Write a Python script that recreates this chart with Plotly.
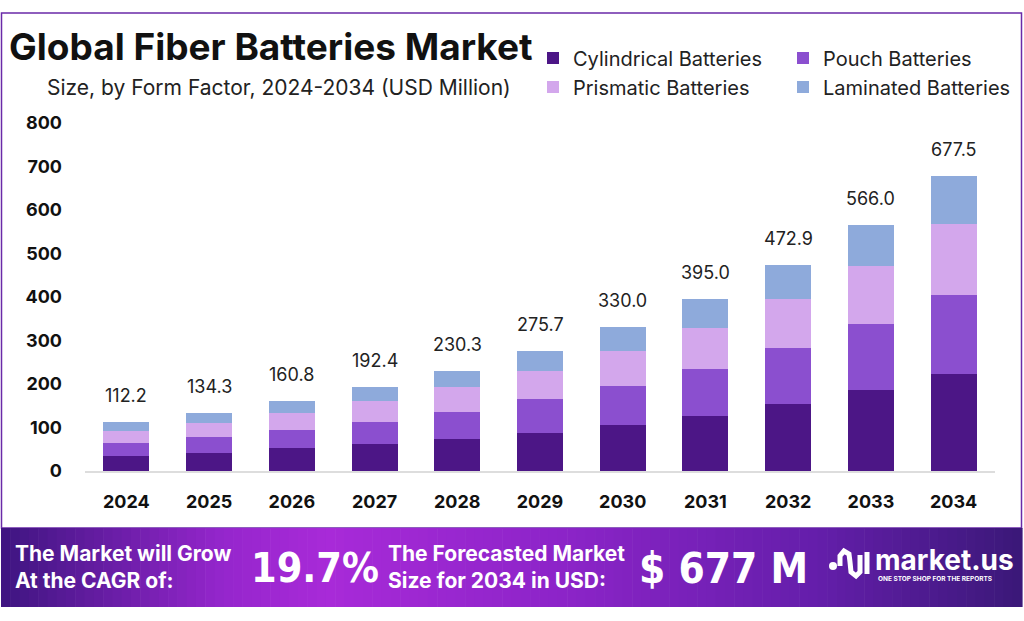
import plotly.graph_objects as go

years = ["2024", "2025", "2026", "2027", "2028", "2029", "2030", "2031", "2032", "2033", "2034"]
totals = [112.2, 134.3, 160.8, 192.4, 230.3, 275.7, 330.0, 395.0, 472.9, 566.0, 677.5]
cylindrical = [34.6, 42.2, 52.2, 62.2, 73.0, 88.5, 105.3, 126.7, 153.7, 186.0, 222.8]
pouch = [30.6, 36.8, 42.3, 51.4, 63.6, 76.0, 89.9, 107.6, 129.0, 151.3, 182.0]
prismatic = [27.0, 32.3, 39.8, 47.7, 55.4, 65.9, 80.6, 95.2, 112.9, 135.1, 163.6]
laminated = [20.0, 23.0, 26.5, 31.1, 38.3, 45.3, 54.2, 65.5, 77.3, 93.6, 109.1]
y_ticks = [0, 100, 200, 300, 400, 500, 600, 700, 800]

W, H = 1024, 621
L, R, T, B = 85, 29, 123, 150
PW = W - L - R
PH = H - T - B


def px(x):
    return (x - L) / PW


def py(y):
    return (H - B - y) / PH


FONT = "Inter, 'Open Sans', sans-serif"
colors = {"cyl": "#4c1686", "pouch": "#8b4fcf", "pris": "#d3a7ec", "lam": "#8eaadb"}

fig = go.Figure()
series = [
    ("Cylindrical Batteries", cylindrical, colors["cyl"], "legend"),
    ("Pouch Batteries", pouch, colors["pouch"], "legend"),
    ("Prismatic Batteries", prismatic, colors["pris"], "legend2"),
    ("Laminated Batteries", laminated, colors["lam"], "legend2"),
]
for name, vals, col, lg in series:
    fig.add_trace(go.Bar(x=years, y=vals, name=name, marker=dict(color=col, line=dict(width=0)),
                         legend=lg, hoverinfo="x+y+name"))

annotations = []
for i, tot in enumerate(totals):
    annotations.append(dict(x=i, y=tot, text=f"{tot:.1f}", showarrow=False, xref="x", yref="y",
                            yanchor="bottom", yshift=14, font=dict(family=FONT, size=18, color="#222")))

# Title & subtitle
annotations.append(dict(x=px(7), y=py(47), xref="paper", yref="paper", xanchor="left", yanchor="middle",
                        text="<b>Global Fiber Batteries Market</b>", showarrow=False,
                        font=dict(family=FONT, size=37, color="#111")))
annotations.append(dict(x=px(45), y=py(88), xref="paper", yref="paper", xanchor="left", yanchor="middle",
                        text="Size, by Form Factor, 2024-2034 (USD Million)", showarrow=False,
                        font=dict(family=FONT, size=21, color="#222")))

shapes = []
# Frame
shapes.append(dict(type="rect", xref="paper", yref="paper", x0=px(1.5), x1=px(1021.5), y0=py(528), y1=py(13),
                   line=dict(color="#6a2aa8", width=1.5), fillcolor="rgba(0,0,0,0)", layer="below"))

# Banner gradient strips
stops = [(0.0, (62, 21, 128)), (0.22, (150, 38, 205)), (0.32, (168, 42, 216)),
         (0.55, (140, 36, 200)), (0.8, (100, 30, 170)), (1.0, (58, 24, 120))]


def grad(t):
    for (t0, c0), (t1, c1) in zip(stops[:-1], stops[1:]):
        if t0 <= t <= t1:
            f = (t - t0) / (t1 - t0)
            return "rgb(%d,%d,%d)" % tuple(round(a + (b - a) * f) for a, b in zip(c0, c1))
    return "rgb(%d,%d,%d)" % stops[-1][1]


bx0, bx1 = 1.0, 1022.0
n = 110
step = (bx1 - bx0) / n
for i in range(n):
    xa = bx0 + i * step
    shapes.append(dict(type="rect", xref="paper", yref="paper", x0=px(xa), x1=px(xa + step + 0.6),
                       y0=py(607), y1=py(528), line=dict(width=0), fillcolor=grad((i + 0.5) / n), layer="below"))

# Logo icon (approximation)
shapes.append(dict(type="circle", xref="paper", yref="paper", x0=px(829), x1=px(837), y0=py(570), y1=py(562),
                   fillcolor="white", line=dict(width=0)))
path_pts = [(840, 566), (840, 556), (844, 551), (849, 554), (850, 562), (851, 572), (856, 576), (860, 572), (860, 555)]
path = "M " + " L ".join(f"{px(a)} {py(b)}" for a, b in path_pts)
shapes.append(dict(type="path", xref="paper", yref="paper", path=path, line=dict(color="white", width=5)))
shapes.append(dict(type="line", xref="paper", yref="paper", x0=px(867), x1=px(867), y0=py(552), y1=py(574),
                   line=dict(color="white", width=5)))

WHITE = "#ffffff"
BFONT = "'DejaVu Sans Condensed', 'Liberation Sans Narrow', Inter, sans-serif"
annotations += [
    dict(x=px(13), y=py(567), xref="paper", yref="paper", xanchor="left", yanchor="middle", showarrow=False,
         align="left", text="<b>The Market will Grow<br>At the CAGR of:</b>",
         font=dict(family=FONT, size=21, color=WHITE)),
    dict(x=px(249), y=py(568), xref="paper", yref="paper", xanchor="left", yanchor="middle", showarrow=False,
         text="<b>19.7%</b>", font=dict(family=BFONT, size=41, color=WHITE)),
    dict(x=px(386), y=py(567), xref="paper", yref="paper", xanchor="left", yanchor="middle", showarrow=False,
         align="left", text="<b>The Forecasted Market<br>Size for 2034 in USD:</b>",
         font=dict(family=FONT, size=21, color=WHITE)),
    dict(x=px(637), y=py(568), xref="paper", yref="paper", xanchor="left", yanchor="middle", showarrow=False,
         text="<b>$ 677 M</b>", font=dict(family=BFONT, size=42, color=WHITE)),
    dict(x=px(873), y=py(560), xref="paper", yref="paper", xanchor="left", yanchor="middle", showarrow=False,
         text="<b>market.us</b>", font=dict(family=FONT, size=28, color=WHITE)),
    dict(x=px(876), y=py(579), xref="paper", yref="paper", xanchor="left", yanchor="middle", showarrow=False,
         text="<b>ONE STOP SHOP FOR THE REPORTS</b>", font=dict(family=FONT, size=6.5, color=WHITE)),
]

legend_common = dict(orientation="h", xref="container", yref="container", xanchor="left", yanchor="middle",
                     entrywidth=205, entrywidthmode="pixels", font=dict(family=FONT, size=20, color="#222"),
                     itemwidth=30, traceorder="normal", bgcolor="rgba(0,0,0,0)",
                     itemclick=False, itemdoubleclick=False)

fig.update_layout(
    width=W, height=H, margin=dict(l=L, r=R, t=T, b=B, autoexpand=False),
    paper_bgcolor="white", plot_bgcolor="white",
    barmode="stack", bargap=0.444,
    showlegend=True,
    legend=dict(legend_common, x=533 / W, y=1 - 58 / H),
    legend2=dict(legend_common, x=533 / W, y=1 - 87 / H),
    xaxis=dict(type="category", showgrid=False, showline=True, linecolor="#dddddd", linewidth=1.5,
               ticks="", tickfont=dict(family=FONT, size=18, color="#111", weight="bold"),
               ticklabelstandoff=14),
    yaxis=dict(range=[0, 800], tickvals=y_ticks, showgrid=False, zeroline=False, showline=False,
               ticks="", tickfont=dict(family=FONT, size=18, color="#111", weight="bold"),
               ticklabelstandoff=22),
    annotations=annotations, shapes=shapes,
)

fig.write_html("out.html", config={"displayModeBar": False},
               post_script="document.body.style.margin='0';document.body.style.overflow='hidden';")
